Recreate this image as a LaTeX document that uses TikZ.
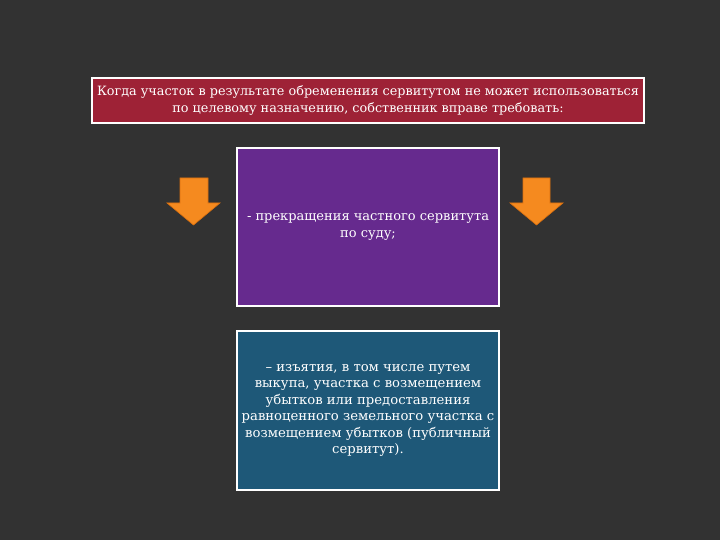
\documentclass[tikz,border=0pt]{standalone}
\usepackage{fontspec}
\setmainfont{DejaVu Serif}
\definecolor{bg}{HTML}{323232}
\definecolor{hdr}{HTML}{9E2236}
\definecolor{purp}{HTML}{662A8E}
\definecolor{blu}{HTML}{1E5878}
\definecolor{orng}{HTML}{F58A1F}
\definecolor{orngd}{HTML}{D96F0E}
\tikzset{
  box/.style={draw=white, line width=2pt, inner sep=0pt, text=white, align=center},
  arrowshape/.style={fill=orng, draw=orngd, line width=0.6pt}
}
\begin{document}
\begin{tikzpicture}[x=1pt,y=-1pt]
\fill[bg] (0,0) rectangle (720,540);
\useasboundingbox (0,0) rectangle (720,540);
\node[box, fill=hdr, minimum width=552pt, minimum height=45pt, font=\fontsize{12.8}{17}\selectfont] (hdr) at (368,100.5)
  {Когда участок в результате обременения сервитутом не может использоваться\\по целевому назначению, собственник вправе требовать:};
\node[box, fill=purp, minimum width=262pt, minimum height=158pt, font=\fontsize{13}{17}\selectfont] (p) at (368,227)
  {- прекращения частного сервитута\\по суду;};
\node[box, fill=blu, minimum width=262pt, minimum height=159pt, font=\fontsize{13.2}{16.5}\selectfont] (b) at (368,410.5)
  {– изъятия, в том числе путем\\выкупа, участка с возмещением\\убытков или предоставления\\равноценного земельного участка с\\возмещением убытков (публичный\\сервитут).};
\draw[arrowshape] (180,178) -- (208,178) -- (208,203) -- (220,203) -- (193.5,225) -- (167,203) -- (180,203) -- cycle;
\draw[arrowshape] (523,178) -- (550,178) -- (550,203) -- (563,203) -- (536.5,225) -- (510,203) -- (523,203) -- cycle;
\end{tikzpicture}
\end{document}
